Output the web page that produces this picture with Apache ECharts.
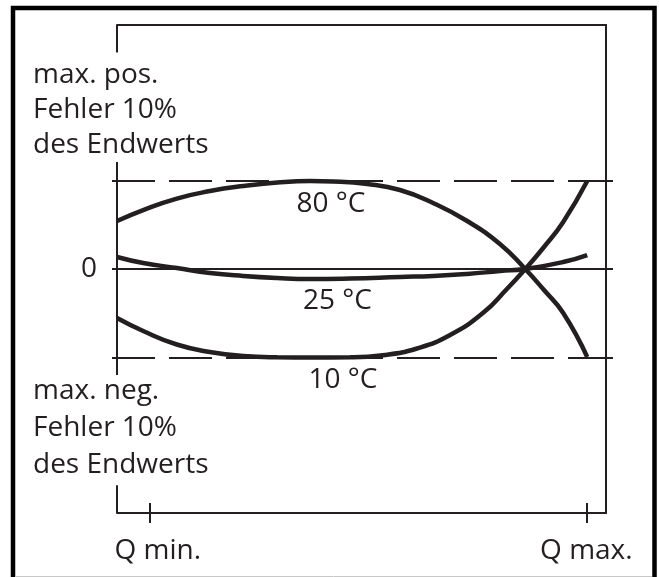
<!DOCTYPE html>
<html><head><meta charset="utf-8">
<script src="https://cdn.jsdelivr.net/npm/echarts@6/dist/echarts.min.js"></script>
<style>html,body{margin:0;padding:0;background:#fff}#c{width:659px;height:577px}</style>
</head><body><div id="c"></div>
<script>
// ---- data ----
const xTickValues = [0, 100];
const xTickLabels = ['Q min.', 'Q max.'];
const yTickValues = [-10, 0, 10];
const yLabelValues = [0];
const limitValues = [10, -10];
const curveNames = ['80 °C', '25 °C', '10 °C'];
const curve80 = [[-7.5,5.43],[-1.5,6.67],[6.2,7.97],[13.8,8.82],[21.4,9.39],[29.2,9.78],[36.7,9.95],[42,9.9],[49.8,9.62],[57.3,8.94],[64.9,7.47],[72.7,5.43],[80.2,2.83],[86,0],[90.3,-2.38],[94.7,-4.98],[100.2,-9.95]];
const curve25 = [[-7.5,1.36],[-1.5,0.68],[6.2,0.11],[13.8,-0.45],[21.4,-0.79],[29.2,-1.02],[36.7,-1.13],[45.9,-1.07],[57.3,-0.9],[64.9,-0.79],[72.7,-0.56],[80.2,-0.23],[86,0],[94.7,0.79],[100.2,1.58]];
const curve10 = [[-7.5,-5.54],[-1.5,-7.01],[6.2,-8.54],[13.8,-9.39],[21.4,-9.85],[29.2,-9.98],[36.7,-10.0],[45.9,-9.98],[53.4,-9.75],[61.2,-8.99],[68.8,-7.47],[76.3,-4.98],[81.8,-2.26],[86,0],[90.3,2.49],[94.7,5.32],[100.2,9.95]];
const upperNote = ['max. pos.', 'Fehler 10%', 'des Endwerts'];
const lowerNote = ['max. neg.', 'Fehler 10%', 'des Endwerts'];

// ---- chart ----
const INK = '#231f20';
const FONT = '"Open Sans", sans-serif';
const XMIN = -7.5, XMAX = 104.5, YMIN = -27.6, YMAX = 27.6;

const chart = echarts.init(document.getElementById('c'), null, {renderer: 'canvas'});

function txt(text, x, y, align) {
  return {type: 'text', x: x, y: y, silent: true, z: 10,
    style: {text: text, fill: INK, fontSize: 28, fontFamily: FONT,
      align: align, verticalAlign: 'middle', textAlign: align, textVerticalAlign: 'middle'}};
}

const graphics = [
  {type: 'rect', shape: {x: 13, y: 8, width: 641.5, height: 620}, style: {fill: 'none', stroke: '#000', lineWidth: 4.5}, silent: true},
  {type: 'line', shape: {x1: 15, y1: 576.5, x2: 652, y2: 576.5}, style: {stroke: '#c8c8c8', lineWidth: 1}, silent: true}
];
const upperY = [75.5, 110.5, 145.5];
const lowerY = [391.5, 428, 465];
upperNote.forEach((t, i) => graphics.push(txt(t, 33, upperY[i], 'left')));
lowerNote.forEach((t, i) => graphics.push(txt(t, 33, lowerY[i], 'left')));
graphics.push(txt(curveNames[0], 331, 204.5, 'center'));
graphics.push(txt(curveNames[1], 337.5, 301.5, 'center'));
graphics.push(txt(curveNames[2], 343, 380.5, 'center'));

const axisLineStyle = {color: INK, width: 2};

const guideLines = [];
guideLines.push([{coord: [XMIN, 0], lineStyle: {type: 'solid', width: 2}}, {coord: [XMAX, 0]}]);
limitValues.forEach(v => guideLines.push([{coord: [XMIN, v], lineStyle: {type: [43, 14], dashOffset: 5, width: 2.2}}, {coord: [XMAX, v]}]));
// left axis segments (interrupted by the notes)
[[YMAX, 24.5], [12.1, -12.0], [-24.45, YMIN]].forEach(s =>
  guideLines.push([{coord: [XMIN, s[0]], lineStyle: {type: 'solid', width: 2}}, {coord: [XMIN, s[1]]}]));

function curveSeries(name, data) {
  return {type: 'line', name: name, data: data, xAxisIndex: 0, yAxisIndex: 0,
    showSymbol: false, symbol: 'none', smooth: 0.5, clip: false, z: 5,
    lineStyle: {color: INK, width: 4.5, cap: 'butt'}, silent: true};
}

chart.setOption({
  animation: false,
  backgroundColor: '#fff',
  grid: {left: 117, right: 53, top: 25, bottom: 64, containLabel: false, outerBoundsMode: 'none'},
  xAxis: [
    {type: 'value', position: 'bottom', min: XMIN, max: XMAX,
      axisLine: {show: true, onZero: false, lineStyle: axisLineStyle},
      axisTick: {show: true, inside: true, length: 10, customValues: xTickValues, lineStyle: axisLineStyle},
      axisLabel: {show: false}, splitLine: {show: false}},
    {type: 'value', position: 'bottom', min: XMIN, max: XMAX,
      axisLine: {show: false, onZero: false},
      axisTick: {show: true, inside: false, length: 10, customValues: xTickValues, lineStyle: axisLineStyle},
      axisLabel: {show: true, customValues: xTickValues, margin: 24, color: INK, fontSize: 28, fontFamily: FONT,
        formatter: v => v === xTickValues[0] ? '{a|' + xTickLabels[0] + '}' : xTickLabels[xTickValues.indexOf(v)],
        rich: {a: {color: INK, fontSize: 28, fontFamily: FONT, padding: [0, 0, 0, 16]}}},
      splitLine: {show: false}},
    {type: 'value', position: 'top', min: XMIN, max: XMAX,
      axisLine: {show: true, onZero: false, lineStyle: axisLineStyle},
      axisTick: {show: false}, axisLabel: {show: false}, splitLine: {show: false}}
  ],
  yAxis: [
    {type: 'value', position: 'left', min: YMIN, max: YMAX,
      axisLine: {show: false, onZero: false},
      axisTick: {show: true, length: 5, customValues: yTickValues, lineStyle: axisLineStyle},
      axisLabel: {show: true, customValues: yLabelValues, margin: 20, color: INK, fontSize: 28, fontFamily: FONT},
      splitLine: {show: false}},
    {type: 'value', position: 'right', min: YMIN, max: YMAX,
      axisLine: {show: true, onZero: false, lineStyle: axisLineStyle},
      axisTick: {show: true, length: 7, customValues: yTickValues, lineStyle: axisLineStyle},
      axisLabel: {show: false}, splitLine: {show: false}}
  ],
  series: [
    {type: 'line', name: 'guides', data: [], xAxisIndex: 0, yAxisIndex: 0, z: 2, silent: true,
      markLine: {silent: true, symbol: ['none', 'none'], label: {show: false}, animation: false,
        lineStyle: {color: INK, width: 2}, emphasis: {disabled: true}, data: guideLines}},
    curveSeries(curveNames[0], curve80),
    curveSeries(curveNames[1], curve25),
    curveSeries(curveNames[2], curve10)
  ],
  graphic: graphics
});
</script>
</body></html>
